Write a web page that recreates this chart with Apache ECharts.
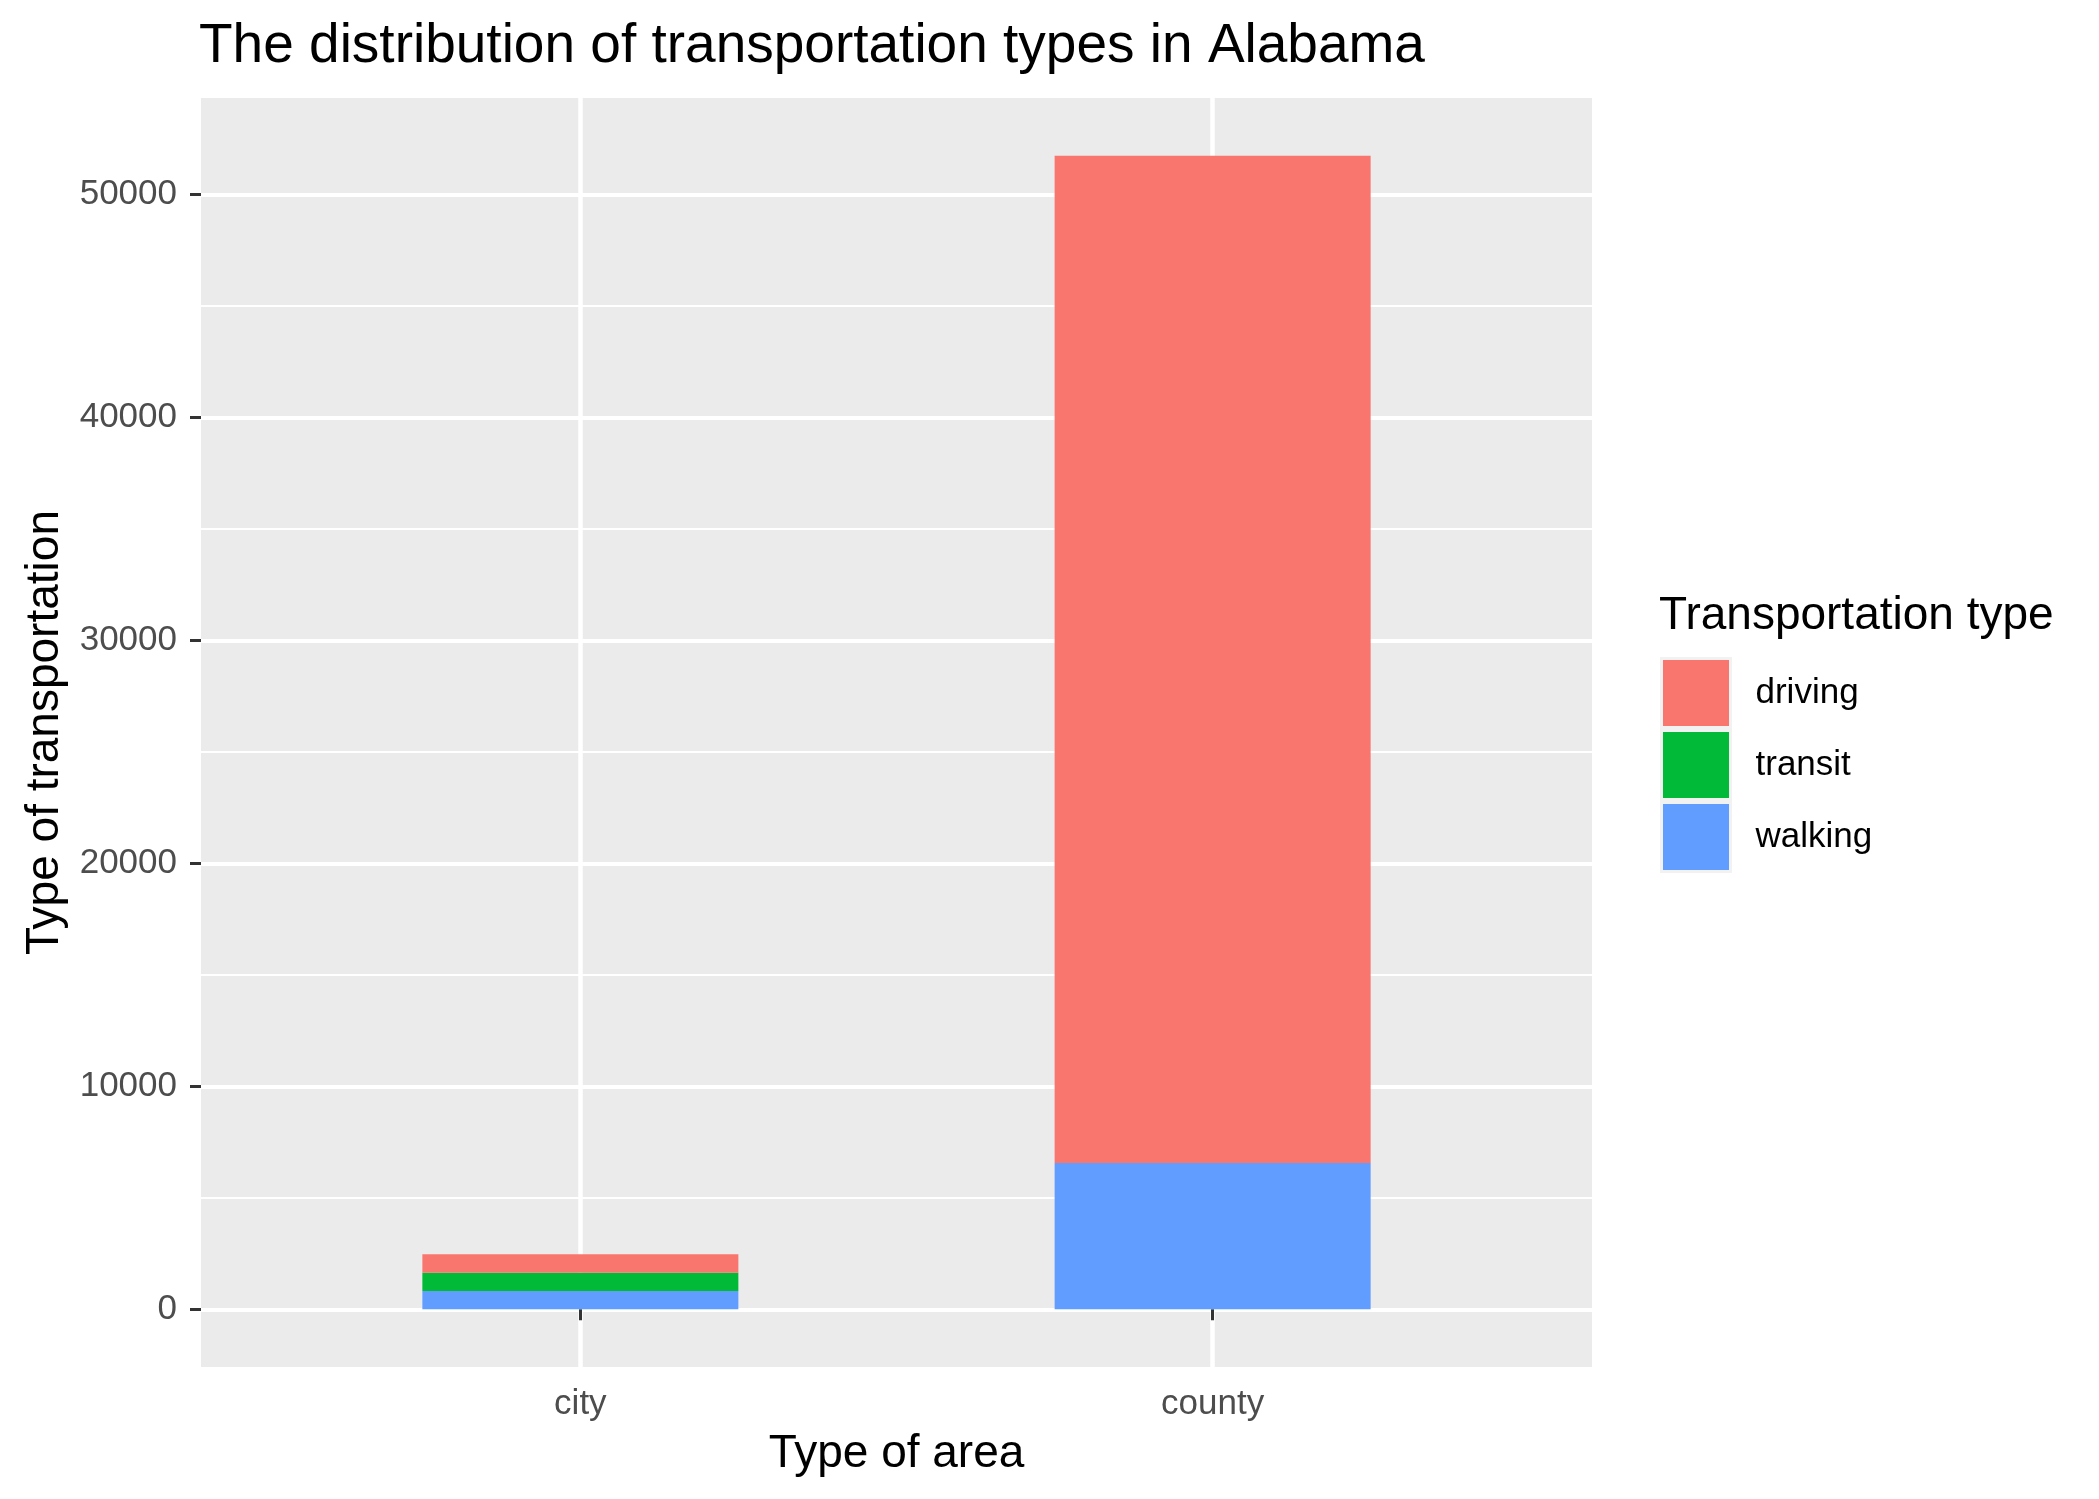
<!DOCTYPE html>
<html>
<head>
<meta charset="utf-8">
<script src="https://cdn.jsdelivr.net/npm/echarts@6/dist/echarts.min.js"></script>
<style>
  html, body { margin: 0; padding: 0; background: #fff; }
  #chart { width: 2099px; height: 1499px; }
</style>
</head>
<body>
<div id="chart"></div>
<script>
// data
const areas = ['city', 'county']
const driving = [825, 45188]
const transit = [820, 0]
const walking = [821, 6561]
const yMajorTicks = [0, 10000, 20000, 30000, 40000, 50000]
const yMinorTicks = [5000, 15000, 25000, 35000, 45000]

const FONT = '"Liberation Sans", Arial, sans-serif'

// ggplot-like 5% padding on the value axis
const totals = areas.map((_, i) => driving[i] + transit[i] + walking[i])
const yTop = Math.max(...totals)
const yPad = yTop * 0.05

// categories live on a value axis at 1, 2 ... (ggplot discrete spacing)
// value goes first so echarts stacks along y
const toPairs = (arr) => arr.map((v, i) => [v, i + 1])
const catPositions = areas.map((_, i) => i + 1)

const chart = echarts.init(document.getElementById('chart'))

const barSeries = (name, values, color) => ({
  name: name,
  type: 'bar',
  stack: 'total',
  barWidth: 316,
  data: toPairs(values),
  encode: { x: 1, y: 0 },
  itemStyle: { color: color },
  emphasis: { disabled: true },
})

const option = {
  backgroundColor: '#ffffff',
  animation: false,
  textStyle: { fontFamily: FONT },
  title: [
    {
      text: 'The distribution of transportation types in Alabama',
      left: 199,
      top: 19,
      padding: 0,
      textStyle: { fontFamily: FONT, fontSize: 55, fontWeight: 'normal', color: '#000' },
    },
    {
      text: 'Transportation type',
      left: 1659,
      top: 593,
      padding: 0,
      textStyle: { fontFamily: FONT, fontSize: 46, fontWeight: 'normal', color: '#000' },
    },
  ],
  legend: {
    orient: 'vertical',
    left: 1660,
    top: 657,
    padding: 0,
    itemWidth: 69,
    itemHeight: 69,
    itemGap: 0,
    icon: 'rect',
    data: ['driving', 'transit', 'walking'],
    itemStyle: { borderColor: '#F2F2F2', borderWidth: 3 },
    textStyle: { fontFamily: FONT, fontSize: 35, color: '#000', padding: [5, 0, 0, 20] },
    selectedMode: false,
  },
  grid: {
    left: 201,
    right: 507,
    top: 98,
    bottom: 132,
    show: true,
    backgroundColor: '#EBEBEB',
    borderWidth: 0,
  },
  xAxis: {
    type: 'value',
    min: 0.4,
    max: 2.6,
    name: 'Type of area',
    nameLocation: 'middle',
    nameGap: 64,
    nameTextStyle: { fontFamily: FONT, fontSize: 46, color: '#000' },
    axisLine: { show: false },
    axisTick: {
      show: true,
      customValues: catPositions,
      length: 11,
      lineStyle: { color: '#333333', width: 3 },
    },
    axisLabel: {
      customValues: catPositions,
      formatter: (v) => areas[Math.round(v) - 1],
      margin: 20,
      fontFamily: FONT,
      fontSize: 35,
      color: '#4D4D4D',
    },
    splitLine: { show: true, lineStyle: { color: '#ffffff', width: 4.5 } },
  },
  yAxis: [
    {
      type: 'value',
      min: -yPad,
      max: yTop + yPad,
      name: 'Type of transportation',
      nameLocation: 'middle',
      nameGap: 126,
      nameTextStyle: { fontFamily: FONT, fontSize: 46, color: '#000' },
      axisLine: { show: false },
      axisTick: {
        show: true,
        customValues: yMajorTicks,
        length: 11,
        lineStyle: { color: '#333333', width: 3 },
      },
      axisLabel: {
        customValues: yMajorTicks,
        formatter: (v) => String(v),
        margin: 24,
        fontFamily: FONT,
        fontSize: 35,
        color: '#4D4D4D',
      },
      splitLine: { show: true, lineStyle: { color: '#ffffff', width: 4 } },
    },
    {
      // hidden axis only used to draw the thinner minor grid lines
      type: 'value',
      position: 'left',
      min: -yPad,
      max: yTop + yPad,
      axisLine: { show: false },
      axisTick: { show: false, customValues: yMinorTicks },
      axisLabel: { show: false },
      splitLine: { show: true, lineStyle: { color: '#ffffff', width: 2 } },
    },
  ],
  series: [
    barSeries('walking', walking, '#619CFF'),
    barSeries('transit', transit, '#00BA38'),
    barSeries('driving', driving, '#F8766D'),
  ],
}

chart.setOption(option)
</script>
</body>
</html>
